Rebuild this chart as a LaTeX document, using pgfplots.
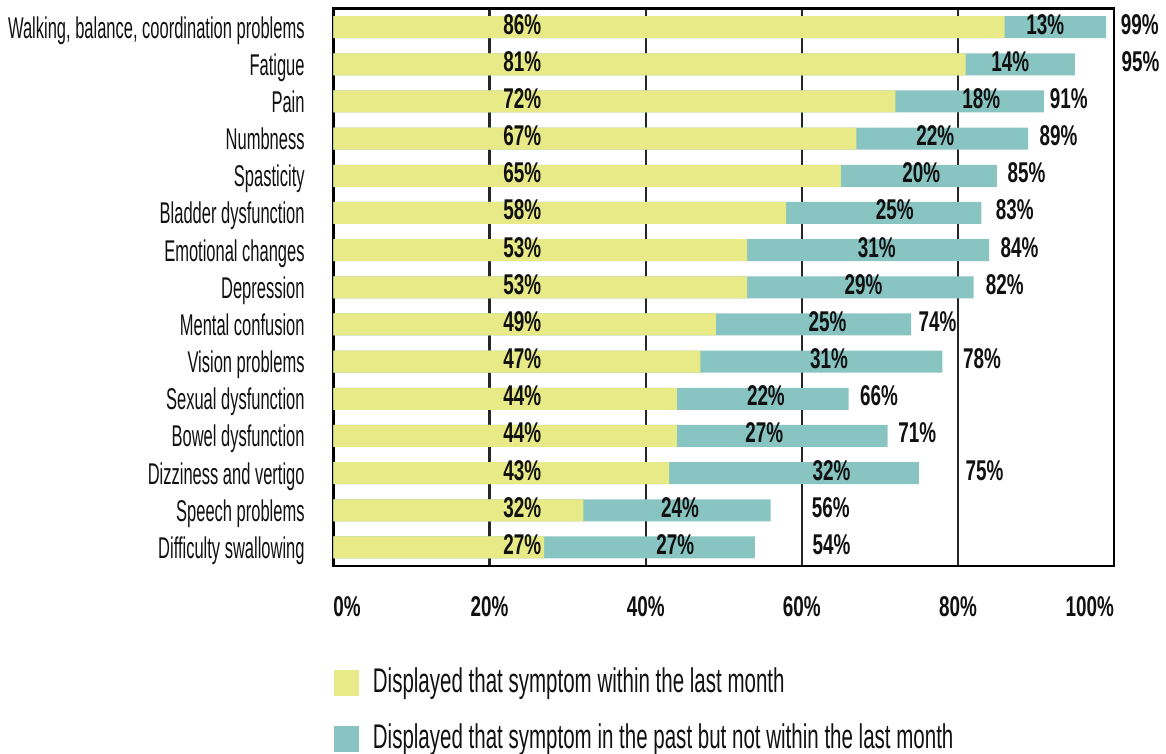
\documentclass[border=0pt]{standalone}
\usepackage{fontspec}
\usepackage{pgfplots}
\pgfplotsset{compat=1.18}
\usepackage{pgfplotstable}
\setmainfont{Liberation Sans}
\newfontfamily\catfont{Liberation Sans}[FakeStretch=0.55]
\newfontfamily\legfont{Liberation Sans}[FakeStretch=0.6]
\newfontfamily\numfont{Liberation Sans}[FakeStretch=0.66]
\definecolor{ylw}{HTML}{E8EA88}
\definecolor{tl}{HTML}{88C4C1}
\definecolor{ink}{HTML}{111111}

% idx, within last month, in past only, total, label positions (x)
\pgfplotstableread{
idx yel teal tot yx tx totx
0  86 13 99 24.2 91.2 103.3
1  81 14 95 24.2 86.7 103.4
2  72 18 91 24.2 83.0 94.2
3  67 22 89 24.2 77.1 92.9
4  65 20 85 24.2 75.3 88.8
5  58 25 83 24.2 71.9 87.3
6  53 31 84 24.2 69.6 87.9
7  53 29 82 24.2 67.9 86.0
8  49 25 74 24.2 63.3 77.4
9  47 31 78 24.2 63.5 83.1
10 44 22 66 24.2 55.4 69.9
11 44 27 71 24.2 55.2 74.8
12 43 32 75 24.2 63.8 83.4
13 32 24 56 24.2 44.4 63.7
14 27 27 54 24.2 43.8 63.8
}\symptoms

\tikzset{
  numlbl/.style={font=\numfont\bfseries\fontsize{14.3}{15}\selectfont,
                 text=ink, anchor=center, inner sep=0pt,
                 text height=0.7em, text depth=0pt},
}

\begin{document}
\begin{tikzpicture}
\begin{axis}[
  name=ax,
  width=390.25pt, height=278.75pt, scale only axis,
  xmin=0, xmax=100, ymin=-0.5, ymax=14.5,
  y dir=reverse,
  clip=false,
  axis line style={line width=1.4pt, black},
  xtick={0,20,40,60,80,100},
  xticklabels={\makebox[0pt][l]{0\%},20\%,40\%,60\%,80\%,\makebox[0pt][r]{100\%}},
  xticklabel style={numlbl, yshift=-21.5pt},
  xmajorgrids, grid style={line width=1.1pt, black!85},
  ytick={0,...,14},
  yticklabels={{Walking, balance, coordination problems}, Fatigue, Pain,
    Numbness, Spasticity, Bladder dysfunction, Emotional changes, Depression,
    Mental confusion, Vision problems, Sexual dysfunction, Bowel dysfunction,
    Dizziness and vertigo, Speech problems, Difficulty swallowing},
  yticklabel style={font=\catfont\fontsize{15}{16}\selectfont, text=ink,
    anchor=east, inner sep=0pt, xshift=-14.25pt, yshift=-3pt,
    text height=0.7em, text depth=0.2em},
  major tick length=0pt,
  legend style={at={(axis description cs:0,-0.185)}, anchor=north west,
    draw=none, fill=none, inner sep=0pt, row sep=14.5pt,
    font=\legfont\fontsize{17.1}{18}\selectfont,
    nodes={inner sep=0pt, text height=0.7em, text depth=0.2em, text=ink},
    /tikz/every odd column/.append style={column sep=7pt}},
  legend cell align=left,
  reverse legend,
  legend image code/.code={\fill[#1] (0pt,-4pt) rectangle (12.5pt,9pt);},
]
\addplot[xbar, bar shift=0pt, bar width=11pt, fill=tl, draw=none]
  table[x=tot, y=idx] {\symptoms};
\addlegendentry{Displayed that symptom in the past but not within the last month}
\addplot[xbar, bar shift=0pt, bar width=11pt, fill=ylw, draw=none]
  table[x=yel, y=idx] {\symptoms};
\addlegendentry{Displayed that symptom within the last month}

\addplot[only marks, mark=none, forget plot, point meta=explicit symbolic,
  nodes near coords={\pgfplotspointmeta\%}, nodes near coords style={numlbl}]
  table[x=yx, y=idx, meta=yel] {\symptoms};
\addplot[only marks, mark=none, forget plot, point meta=explicit symbolic,
  nodes near coords={\pgfplotspointmeta\%}, nodes near coords style={numlbl}]
  table[x=tx, y=idx, meta=teal] {\symptoms};
\addplot[only marks, mark=none, forget plot, point meta=explicit symbolic,
  nodes near coords={\pgfplotspointmeta\%}, nodes near coords style={numlbl}]
  table[x=totx, y=idx, meta=tot] {\symptoms};
\end{axis}
\pgfresetboundingbox
\path ([xshift=-166.75pt,yshift=-94pt]ax.south west)
  rectangle ([xshift=26pt,yshift=4.25pt]ax.north east);
\end{tikzpicture}
\end{document}
